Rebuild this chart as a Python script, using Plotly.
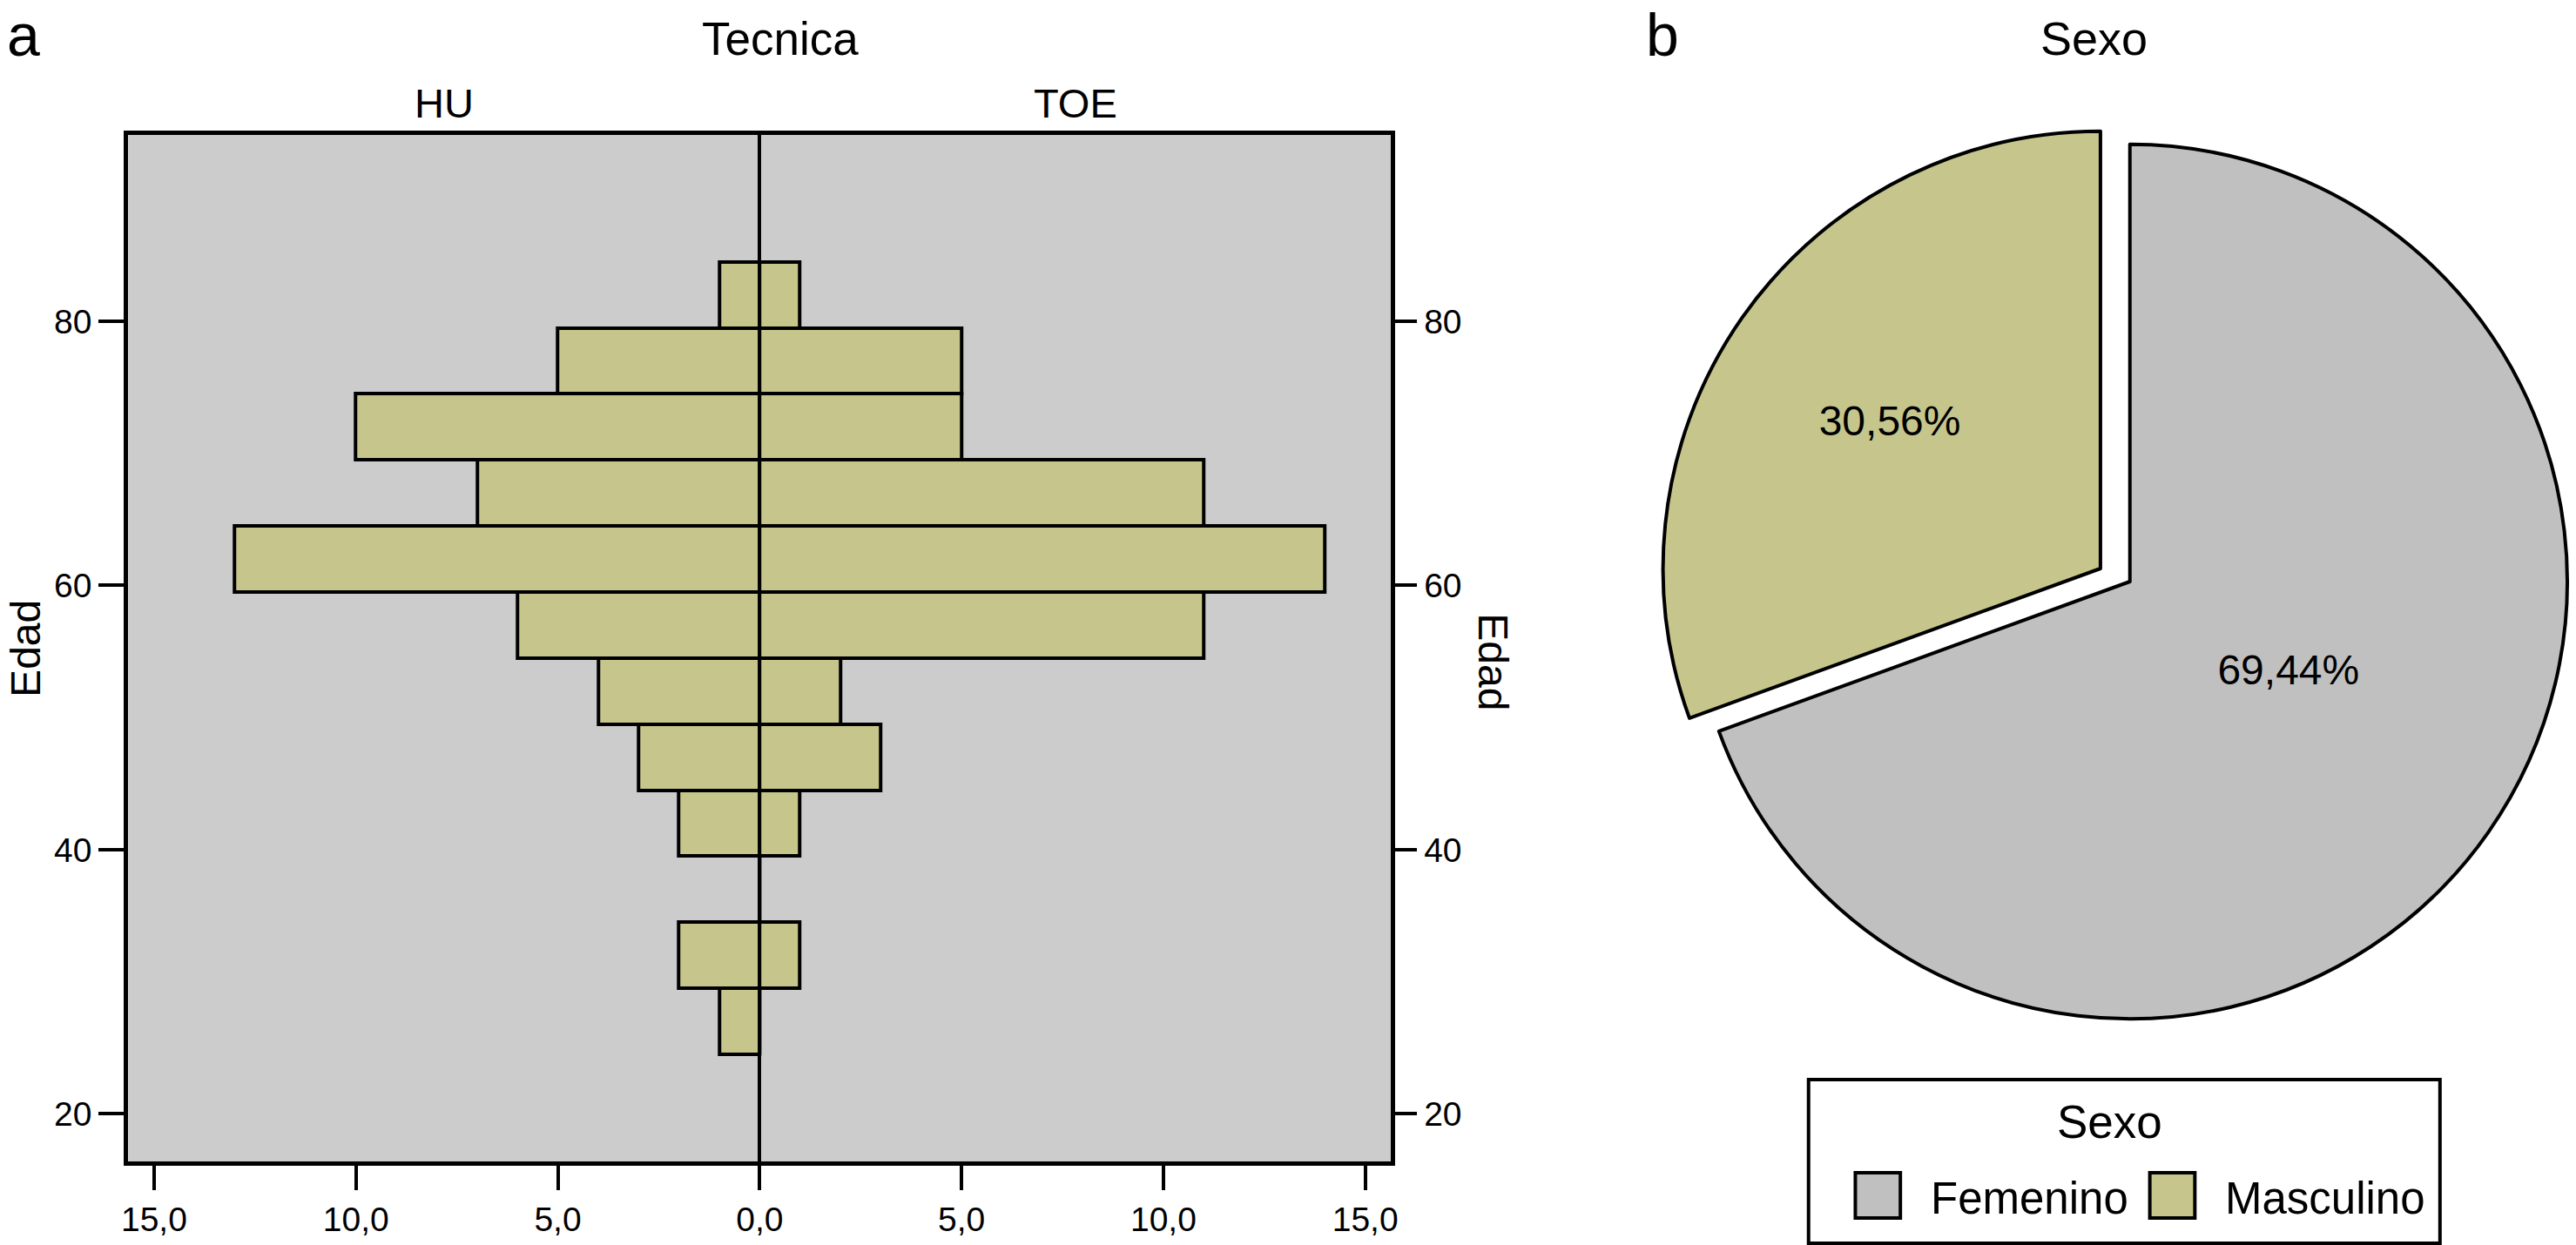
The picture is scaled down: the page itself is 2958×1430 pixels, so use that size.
import plotly.graph_objects as go

# ---------------- data ----------------
age_bins = [27, 32, 37, 42, 47, 52, 57, 62, 67, 72, 77, 82]   # bin centres (5-year bins)
hu_counts = [1, 2, 0, 2, 3, 4, 6, 13, 7, 10, 5, 1]
toe_counts = [0, 1, 0, 1, 3, 2, 11, 14, 11, 5, 5, 1]
x_tickvals = [-15, -10, -5, 0, 5, 10, 15]
x_ticktext = ["15,0", "10,0", "5,0", "0,0", "5,0", "10,0", "15,0"]
y_tickvals = [20, 40, 60, 80]
group_labels = ["HU", "TOE"]

sexo_labels = ["Femenino", "Masculino"]
sexo_values = [69.44, 30.56]

# ---------------- style ----------------
W, H = 2958, 1430
OLIVE = "#C6C68C"
PIE_GRAY = "#C0C0C0"
PANEL = "#CCCCCC"
FONT = "Liberation Sans, Arial, Helvetica, sans-serif"
sexo_colors = [PIE_GRAY, OLIVE]


def fx(px):
    return px / W


def fy(py):
    return 1 - py / H


X_RANGE = [-15.64, 15.64]
Y_RANGE = [16.4, 94.1]

fig = go.Figure()

bar_line = dict(color="black", width=4)
fig.add_trace(go.Bar(
    y=age_bins, x=[-v for v in hu_counts], orientation="h", width=5,
    marker=dict(color=OLIVE, line=bar_line), name=group_labels[0],
    showlegend=False, xaxis="x", yaxis="y", hoverinfo="skip",
))
fig.add_trace(go.Bar(
    y=age_bins, x=toe_counts, orientation="h", width=5,
    marker=dict(color=OLIVE, line=bar_line), name=group_labels[1],
    showlegend=False, xaxis="x", yaxis="y2", hoverinfo="skip",
))

# ---------------- pie (exploded) ----------------
total = sum(sexo_values)
pct_text = [f"{v / total * 100:.2f}%".replace(".", ",") for v in sexo_values]


def dom(cx, cy, r):
    return dict(x=[fx(cx - r), fx(cx + r)], y=[fy(cy + r), fy(cy - r)])


C1 = (2451, 668)   # Femenino centre
C2 = (2417, 653)   # Masculino centre (pulled out)
R = 505

common = dict(labels=sexo_labels, values=sexo_values, sort=False,
              direction="clockwise", rotation=0, showlegend=False,
              hoverinfo="skip", textposition="inside",
              insidetextorientation="horizontal",
              insidetextfont=dict(family=FONT, size=48, color="black"))
clear = "rgba(0,0,0,0)"

# filled slices
fig.add_trace(go.Pie(**common, domain=dom(*C1, R), textinfo="none",
                     marker=dict(colors=[sexo_colors[0], clear],
                                 line=dict(color="black", width=[4, 0]))))
fig.add_trace(go.Pie(**common, domain=dom(*C2, R), textinfo="none",
                     marker=dict(colors=[clear, sexo_colors[1]],
                                 line=dict(color="black", width=[0, 4]))))
# percentage labels
fig.add_trace(go.Pie(**common, domain=dom(2462, 650, 420), textinfo="text",
                     text=[pct_text[0], ""],
                     marker=dict(colors=[clear, clear], line=dict(width=0))))
fig.add_trace(go.Pie(**common, domain=dom(*C2, 540), textinfo="text",
                     text=["", pct_text[1]],
                     marker=dict(colors=[clear, clear], line=dict(width=0))))

# ---------------- layout ----------------
tickfont = dict(family=FONT, size=39, color="black")
yax_common = dict(range=Y_RANGE, tickvals=y_tickvals, ticks="outside",
                  ticklen=29, tickwidth=3.5, tickcolor="black", tickfont=tickfont,
                  showgrid=False, zeroline=False,
                  domain=[fy(1334), fy(155)])

fig.update_layout(
    width=W, height=H, autosize=False,
    margin=dict(l=0, r=0, t=0, b=0, pad=0),
    paper_bgcolor="white", plot_bgcolor=PANEL,
    barmode="overlay", bargap=0,
    separators=",.",
    xaxis=dict(range=X_RANGE, domain=[fx(140), fx(1598)],
               tickvals=x_tickvals, ticktext=x_ticktext,
               ticks="outside", ticklen=28, tickwidth=3.5, tickcolor="black",
               tickfont=tickfont, showgrid=False,
               showline=True, mirror=True, linecolor="black", linewidth=5,
               zeroline=True, zerolinecolor="black", zerolinewidth=3.5,
               fixedrange=True),
    yaxis=dict(**yax_common, showline=True, mirror=True, linecolor="black",
               linewidth=5, side="left", anchor="x", fixedrange=True),
    yaxis2=dict(**yax_common, overlaying="y", side="right", anchor="x",
                showline=False, fixedrange=True),
    showlegend=False,
)

ann = []


def text(t, x, y, size, xanchor="center", yanchor="middle", angle=0, xref="paper"):
    ann.append(dict(text=t, x=x, y=y, xref=xref, yref="paper",
                    xanchor=xanchor, yanchor=yanchor, showarrow=False,
                    textangle=angle, font=dict(family=FONT, size=size, color="black")))


text("a", fx(-2), 1.0, 68, xanchor="left", yanchor="top")
text("b", fx(1890), 1.0, 68, xanchor="left", yanchor="top")
text("Tecnica", fx(893), fy(45), 53)
text(group_labels[0], 0.25, fy(119), 47, xref="x domain")
text(group_labels[1], 0.75, fy(119), 47, xref="x domain")
text("Edad", fx(22), fy(745), 48, angle=-90)
text("Edad", fx(1716), fy(760), 48, angle=90)
text("Sexo", fx(2410), fy(44), 54)

# legend (drawn as shapes + text)
text("Sexo", fx(2428), fy(1288), 53)
text(sexo_labels[0], fx(2219), fy(1376), 51, xanchor="left")
text(sexo_labels[1], fx(2559), fy(1376), 51, xanchor="left")

shapes = [
    dict(type="rect", xref="paper", yref="paper",
         x0=fx(2080), x1=fx(2809), y0=fy(1428), y1=fy(1240),
         line=dict(color="black", width=4), fillcolor="white", layer="below"),
    dict(type="rect", xref="paper", yref="paper",
         x0=fx(2134), x1=fx(2186), y0=fy(1399), y1=fy(1347),
         line=dict(color="black", width=4), fillcolor=sexo_colors[0]),
    dict(type="rect", xref="paper", yref="paper",
         x0=fx(2474), x1=fx(2526), y0=fy(1399), y1=fy(1347),
         line=dict(color="black", width=4), fillcolor=sexo_colors[1]),
]

fig.update_layout(annotations=ann, shapes=shapes)
fig.write_html("out.html", config={"displayModeBar": False},
               post_script="document.body.style.margin='0px';")
